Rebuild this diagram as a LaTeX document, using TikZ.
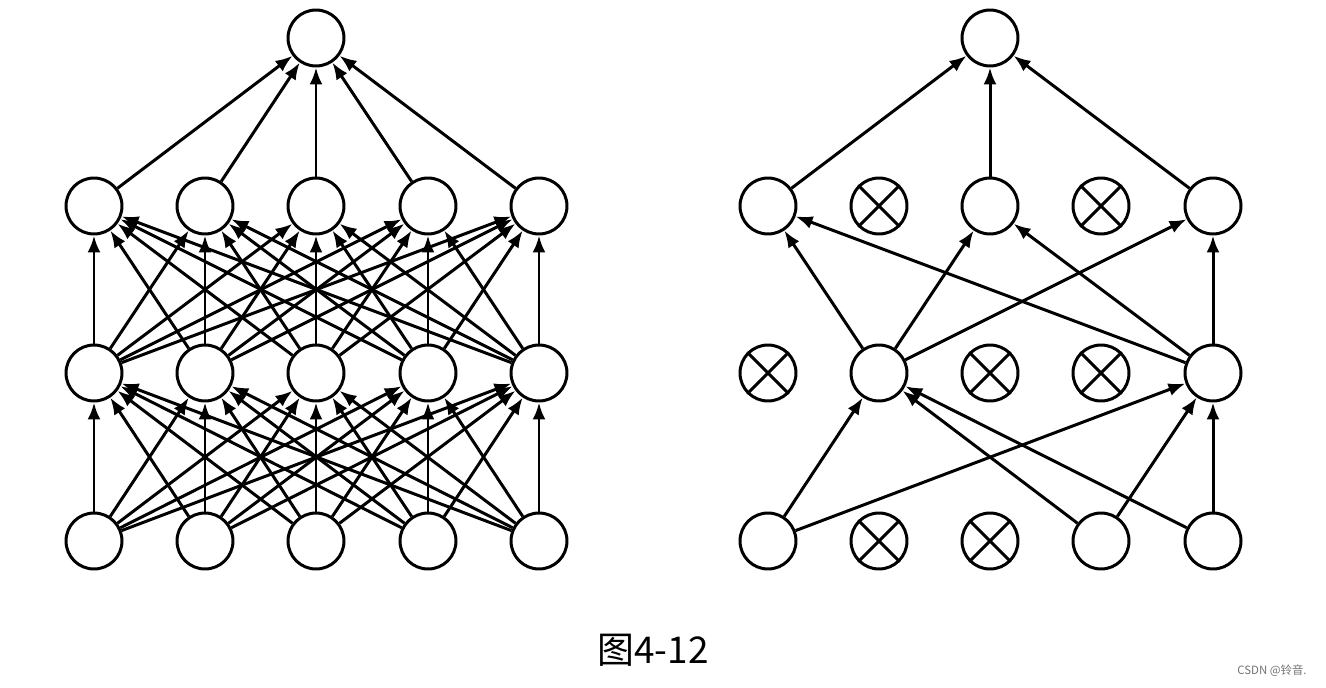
\documentclass[tikz,border=0pt]{standalone}
\usepackage{fontspec}
\newfontfamily\cjk{Noto Sans CJK SC}
\usetikzlibrary{arrows.meta}

\begin{document}
\begin{tikzpicture}[x=0.02cm,y=-0.02cm,
  neuron/.style={circle,draw,line width=1.7pt,minimum size=1.12cm,inner sep=0pt,fill=white},
  conn/.style={line width=1.7pt,-{Latex[length=0.34cm,width=0.26cm]}}]
\useasboundingbox (0,0) rectangle (1326,687);
% left: full network
\foreach \i/\x in {1/94,2/205,3/316,4/428,5/539}{
\node[neuron] (la\i) at (\x,541) {};
\node[neuron] (lb\i) at (\x,373) {};
\node[neuron] (lc\i) at (\x,206) {};}
\node[neuron] (lo) at (316,38) {};
\foreach \i in {1,...,5}{
\foreach \j in {1,...,5}{
\draw[conn] (la\i)--(lb\j);
\draw[conn] (lb\i)--(lc\j);}
\draw[conn] (lc\i)--(lo);}
% right: after dropout
\foreach \i/\x in {1/768,2/879,3/990,4/1101,5/1213}{
\node[neuron] (ra\i) at (\x,541) {};
\node[neuron] (rb\i) at (\x,373) {};
\node[neuron] (rc\i) at (\x,206) {};}
\node[neuron] (ro) at (990,38) {};
\foreach \n in {ra2,ra3,rb1,rb3,rb4,rc2,rc4}{
\draw[line width=1.7pt] (\n.45)--(\n.225) (\n.135)--(\n.315);}
\foreach \a/\b in {ra1/rb2,ra1/rb5,ra4/rb2,ra4/rb5,ra5/rb2,ra5/rb5,
  rb2/rc1,rb2/rc3,rb2/rc5,rb5/rc1,rb5/rc3,rb5/rc5,rc1/ro,rc3/ro,rc5/ro}
\draw[conn] (\a)--(\b);
\node[font=\cjk\fontsize{21}{24}\selectfont] (cap) at (653,650) {图4-12};
\node[font=\cjk\fontsize{6.5}{8}\selectfont,text=black!55] (wm) at (1272,671) {CSDN @铃音.};
\end{tikzpicture}
\end{document}
